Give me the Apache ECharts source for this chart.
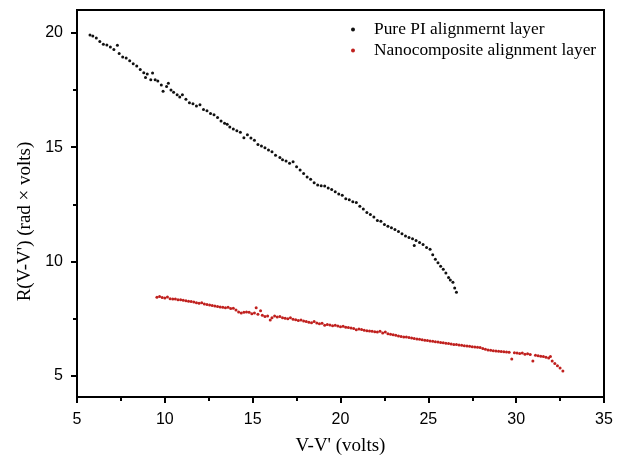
<!DOCTYPE html>
<html>
<head>
<meta charset="utf-8">
<script src="https://cdn.jsdelivr.net/npm/echarts@6/dist/echarts.min.js"></script>
<style>
  html, body { margin: 0; padding: 0; background: #fff; }
  #chart { width: 627px; height: 461px; }
</style>
</head>
<body>
<div id="chart"></div>
<script>
// 数据
var pureX = [5.74, 5.9, 6.1, 6.3, 6.5, 6.7, 6.9, 7.1, 7.3, 7.4, 7.6, 7.8, 8.0, 8.2, 8.4, 8.6, 8.8, 8.9, 9.0, 9.2,
  9.3, 9.45, 9.6, 9.8, 9.9, 10.1, 10.2, 10.35, 10.5, 10.7, 10.85, 11.0, 11.2, 11.4, 11.6, 11.8, 12.0, 12.2, 12.4, 12.6,
  12.8, 13.0, 13.2, 13.4, 13.55, 13.7, 13.9, 14.1, 14.3, 14.5, 14.7, 14.9, 15.1, 15.3, 15.5, 15.7, 15.9, 16.1, 16.3, 16.55,
  16.7, 16.9, 17.1, 17.3, 17.5, 17.7, 17.9, 18.1, 18.3, 18.5, 18.7, 18.9, 19.1, 19.3, 19.5, 19.7, 19.9, 20.1, 20.3, 20.5,
  20.7, 20.9, 21.1, 21.3, 21.5, 21.7, 21.9, 22.1, 22.3, 22.5, 22.7, 22.9, 23.1, 23.3, 23.5, 23.7, 23.9, 24.1, 24.2, 24.3,
  24.5, 24.7, 24.9, 25.1, 25.25, 25.4, 25.55, 25.7, 25.85, 26.0, 26.15, 26.25, 26.4, 26.5, 26.6];
var pureY = [19.91, 19.86, 19.78, 19.62, 19.5, 19.47, 19.38, 19.27, 19.46, 19.1, 18.95, 18.9, 18.78, 18.65, 18.55, 18.4, 18.26, 18.05, 18.2, 17.95,
  18.25, 17.95, 17.9, 17.72, 17.45, 17.65, 17.8, 17.5, 17.4, 17.3, 17.2, 17.3, 17.1, 16.95, 16.9, 16.8, 16.86, 16.65, 16.6, 16.48,
  16.42, 16.3, 16.15, 16.05, 16.0, 15.88, 15.8, 15.72, 15.65, 15.42, 15.55, 15.4, 15.3, 15.12, 15.05, 14.98, 14.88, 14.8, 14.65, 14.55,
  14.45, 14.4, 14.3, 14.37, 14.15, 14.0, 13.85, 13.7, 13.6, 13.45, 13.35, 13.32, 13.3, 13.22, 13.15, 13.05, 12.95, 12.9, 12.75, 12.7,
  12.62, 12.58, 12.42, 12.3, 12.15, 12.06, 11.95, 11.8, 11.76, 11.62, 11.55, 11.48, 11.4, 11.32, 11.22, 11.12, 11.05, 11.0, 10.7, 10.92,
  10.84, 10.75, 10.62, 10.54, 10.3, 10.1, 9.95, 9.8, 9.66, 9.5, 9.3, 9.2, 9.1, 8.85, 8.66];

var nanoX = [9.55, 9.7, 9.85, 10.0, 10.15, 10.3, 10.45, 10.6, 10.75, 10.9, 11.05, 11.2, 11.35, 11.5, 11.65, 11.8, 11.95, 12.1, 12.25, 12.4,
  12.55, 12.7, 12.85, 13.0, 13.15, 13.3, 13.45, 13.6, 13.75, 13.9, 14.05, 14.2, 14.35, 14.5, 14.65, 14.8, 14.95, 15.1, 15.2, 15.3,
  15.45, 15.55, 15.7, 15.85, 16.0, 16.1, 16.25, 16.4, 16.55, 16.7, 16.85, 17.0, 17.15, 17.3, 17.45, 17.6, 17.75, 17.9, 18.05, 18.2,
  18.35, 18.5, 18.65, 18.8, 18.95, 19.1, 19.25, 19.4, 19.55, 19.7, 19.85, 20.0, 20.15, 20.3, 20.45, 20.6, 20.75, 20.9, 21.05, 21.2,
  21.35, 21.5, 21.65, 21.8, 21.95, 22.1, 22.25, 22.4, 22.55, 22.7, 22.85, 23.0, 23.15, 23.3, 23.45, 23.6, 23.75, 23.9, 24.05, 24.2,
  24.35, 24.5, 24.65, 24.8, 24.95, 25.1, 25.25, 25.4, 25.55, 25.7, 25.85, 26.0, 26.15, 26.3, 26.45, 26.6, 26.75, 26.9, 27.05, 27.2,
  27.35, 27.5, 27.65, 27.8, 27.95, 28.1, 28.25, 28.4, 28.55, 28.7, 28.85, 29.0, 29.15, 29.3, 29.45, 29.6, 29.75, 29.9, 30.05, 30.2,
  30.35, 30.5, 30.65, 30.8, 30.95, 31.1, 31.25, 31.4, 31.55, 31.7, 31.85, 31.95, 32.05, 32.2, 32.35, 32.5, 32.66];
var nanoY = [8.44, 8.47, 8.43, 8.41, 8.45, 8.38, 8.37, 8.36, 8.33, 8.33, 8.31, 8.29, 8.27, 8.25, 8.23, 8.2, 8.18, 8.2, 8.15, 8.12,
  8.1, 8.08, 8.06, 8.04, 8.02, 8.0, 7.98, 8.0, 7.95, 7.96, 7.88, 7.8, 7.75, 7.78, 7.8, 7.78, 7.72, 7.75, 7.98, 7.7,
  7.85, 7.65, 7.6, 7.62, 7.45, 7.55, 7.62, 7.58, 7.6, 7.55, 7.52, 7.5, 7.55, 7.48, 7.46, 7.42, 7.45, 7.4, 7.38, 7.35,
  7.33, 7.38, 7.31, 7.28, 7.3, 7.22, 7.25, 7.23, 7.2, 7.22, 7.18, 7.15, 7.17, 7.13, 7.12, 7.1, 7.08, 7.02, 7.05, 7.03,
  7.0, 6.98, 6.97, 6.95, 6.93, 6.92, 6.96, 6.88, 6.92, 6.85, 6.82, 6.8, 6.78, 6.75, 6.73, 6.7, 6.7, 6.68, 6.66, 6.64,
  6.62, 6.6, 6.58, 6.56, 6.55, 6.53, 6.52, 6.5, 6.48, 6.46, 6.45, 6.43, 6.42, 6.4, 6.38, 6.37, 6.35, 6.34, 6.32, 6.31,
  6.3, 6.28, 6.27, 6.26, 6.24, 6.2, 6.17, 6.14, 6.12, 6.1, 6.09, 6.08, 6.07, 6.06, 6.05, 6.04, 5.74, 6.02, 6.0, 5.98,
  6.0, 5.95, 5.97, 5.94, 5.65, 5.9, 5.88, 5.86, 5.85, 5.82, 5.78, 5.85, 5.65, 5.55, 5.45, 5.35, 5.22];

var yMajor = [5, 10, 15, 20];
var yMinor = [7.5, 12.5, 17.5];

function pairs(xs, ys) {
  var out = [];
  for (var i = 0; i < xs.length; i++) out.push([xs[i], ys[i]]);
  return out;
}

var chart = echarts.init(document.getElementById('chart'));

var labelFont = { color: '#000', fontSize: 16, fontFamily: 'Liberation Sans' };
var titleFont = { color: '#000', fontSize: 19, fontFamily: 'Liberation Serif' };

var option = {
  animation: false,
  grid: {
    left: 77, right: 23, top: 10, bottom: 63,
    show: true, borderColor: '#000', borderWidth: 2
  },
  legend: {
    orient: 'vertical',
    left: 346, top: 16,
    itemGap: 4,
    itemWidth: 4, itemHeight: 4,
    icon: 'circle',
    textStyle: { color: '#000', fontSize: 17.4, fontFamily: 'Liberation Serif', padding: [0, 0, 0, 14] },
    data: ['Pure PI alignmernt layer', 'Nanocomposite alignment layer']
  },
  xAxis: {
    type: 'value',
    min: 5, max: 35, interval: 5,
    name: "V-V' (volts)",
    nameLocation: 'middle',
    nameGap: 40,
    nameTextStyle: titleFont,
    axisLine: { lineStyle: { color: '#000', width: 2 } },
    axisTick: { length: 6, lineStyle: { color: '#000', width: 2 } },
    minorTick: { show: true, splitNumber: 2, length: 4, lineStyle: { color: '#000', width: 2 } },
    axisLabel: Object.assign({ margin: 15 }, labelFont),
    splitLine: { show: false }
  },
  yAxis: [{
    type: 'value',
    min: 4.08, max: 21,
    name: "R(V-V') (rad × volts)",
    nameLocation: 'middle',
    nameGap: 42,
    nameTextStyle: Object.assign({ padding: [0, 36, 0, 0] }, titleFont),
    axisLine: { lineStyle: { color: '#000', width: 2 } },
    axisTick: { customValues: yMajor, length: 6, lineStyle: { color: '#000', width: 2 } },
    axisLabel: Object.assign({ customValues: yMajor, margin: 14 }, labelFont),
    splitLine: { show: false }
  }, {
    type: 'value',
    position: 'left',
    min: 4.08, max: 21,
    axisLine: { show: false },
    axisTick: { customValues: yMinor, length: 4, lineStyle: { color: '#000', width: 2 } },
    axisLabel: { show: false },
    splitLine: { show: false }
  }],
  series: [{
    name: 'Pure PI alignmernt layer',
    type: 'scatter',
    symbolSize: 3,
    itemStyle: { color: '#111', opacity: 1 },
    data: pairs(pureX, pureY)
  }, {
    name: 'Nanocomposite alignment layer',
    type: 'scatter',
    symbolSize: 3,
    itemStyle: { color: '#c0201e', opacity: 1 },
    data: pairs(nanoX, nanoY)
  }]
};

chart.setOption(option);
</script>
</body>
</html>
